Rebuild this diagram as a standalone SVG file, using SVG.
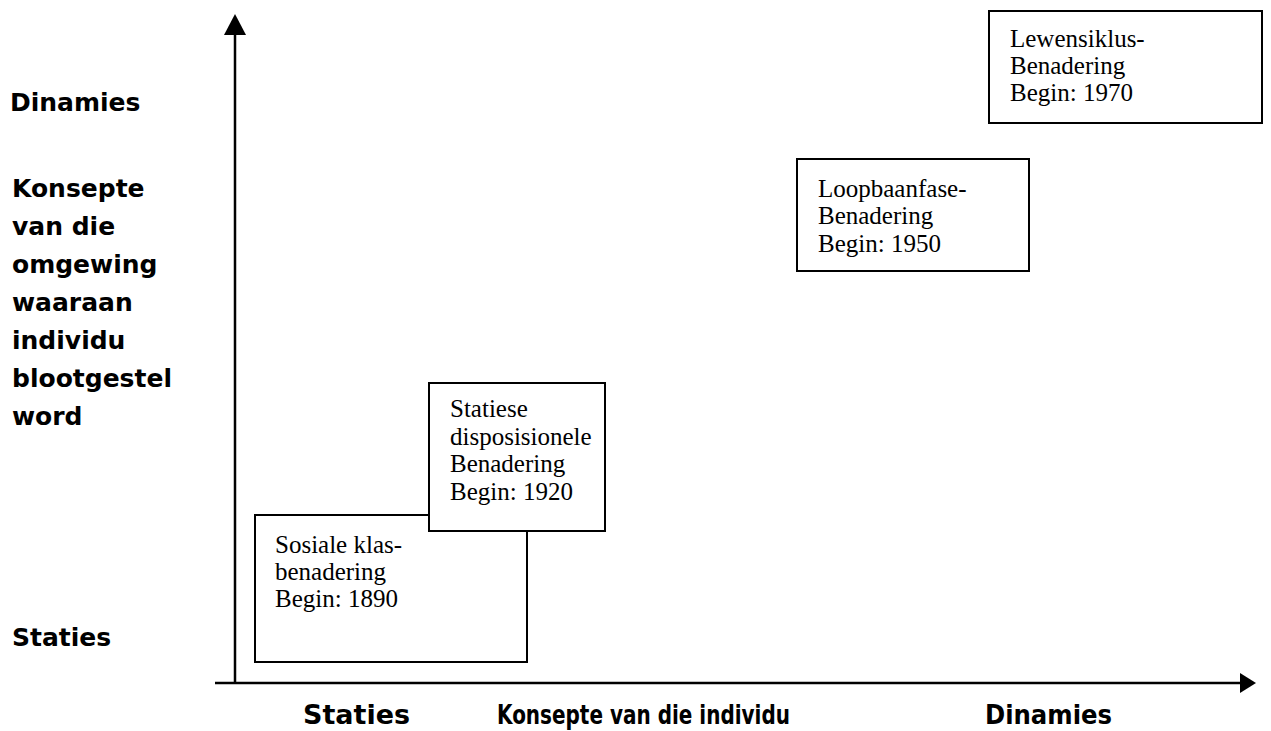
<svg xmlns="http://www.w3.org/2000/svg" width="1271" height="731" viewBox="0 0 1271 731">
<style>
.box{fill:#fff;stroke:#000;stroke-width:2}
.t{font-family:"Liberation Serif","Times New Roman",serif;font-size:25px;fill:#000}
.lab{font-family:"DejaVu Sans",sans-serif;font-weight:bold;font-size:25px;fill:#000}
.blab{font-family:"DejaVu Sans",sans-serif;font-weight:bold;font-size:26px;fill:#000}
.axis{stroke:#000;stroke-width:2.5;fill:none}
</style>
<rect width="1271" height="731" fill="#fff"/>
<g id="connectors">
<line class="axis" x1="235" y1="30" x2="235" y2="683"/>
<polygon points="235,14 224,35 246,35" fill="#000"/>
<line class="axis" x1="215" y1="683" x2="1240" y2="683"/>
<polygon points="1256,683 1240,673 1240,693" fill="#000"/>
</g>
<g id="axis-labels">
<text class="lab" x="10" y="111">Dinamies</text>
<text class="lab" x="12" y="197">Konsepte</text>
<text class="lab" x="12" y="235">van die</text>
<text class="lab" x="12" y="273">omgewing</text>
<text class="lab" x="12" y="311">waaraan</text>
<text class="lab" x="12" y="349">individu</text>
<text class="lab" x="12" y="387">blootgestel</text>
<text class="lab" x="12" y="425">word</text>
<text class="lab" x="12" y="646">Staties</text>
<text class="blab" x="303" y="724" textLength="107" lengthAdjust="spacingAndGlyphs">Staties</text>
<text class="blab" x="497" y="724" textLength="293" lengthAdjust="spacingAndGlyphs">Konsepte van die individu</text>
<text class="blab" x="985" y="724" textLength="127" lengthAdjust="spacingAndGlyphs">Dinamies</text>
</g>
<g id="node-sosiale">
<rect class="box" x="255" y="515" width="272" height="147"/>
<text class="t" x="275" y="553">Sosiale klas-</text>
<text class="t" x="275" y="580">benadering</text>
<text class="t" x="275" y="607">Begin: 1890</text>
</g>
<g id="node-statiese">
<rect class="box" x="429" y="383" width="176" height="148"/>
<text class="t" x="450" y="417">Statiese</text>
<text class="t" x="450" y="445">disposisionele</text>
<text class="t" x="450" y="472">Benadering</text>
<text class="t" x="450" y="500">Begin: 1920</text>
</g>
<g id="node-loopbaan">
<rect class="box" x="797" y="159" width="232" height="112"/>
<text class="t" x="818" y="197">Loopbaanfase-</text>
<text class="t" x="818" y="224">Benadering</text>
<text class="t" x="818" y="252">Begin: 1950</text>
</g>
<g id="node-lewensiklus">
<rect class="box" x="989" y="11" width="273" height="112"/>
<text class="t" x="1010" y="47">Lewensiklus-</text>
<text class="t" x="1010" y="74">Benadering</text>
<text class="t" x="1010" y="101">Begin: 1970</text>
</g>
</svg>
